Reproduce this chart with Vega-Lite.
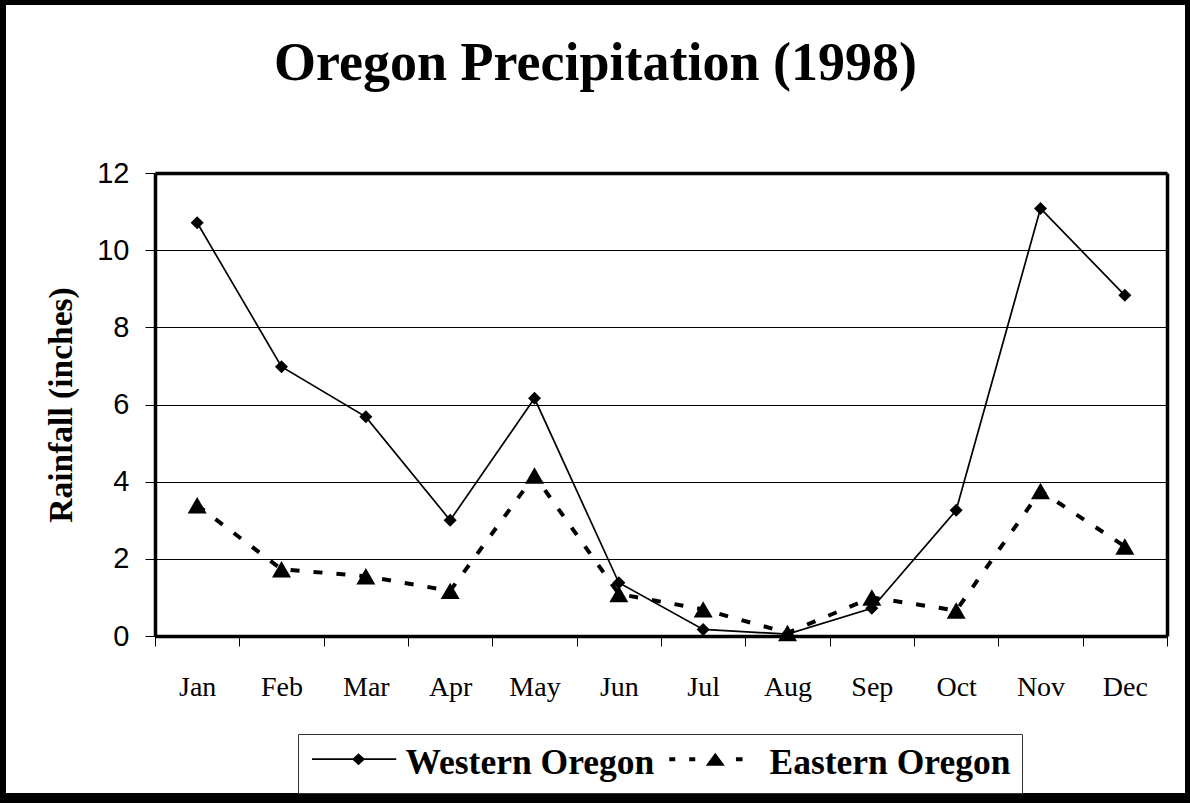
{
  "$schema": "https://vega.github.io/schema/vega-lite/v6.json",
  "width": 1189,
  "height": 798,
  "autosize": {"type": "none"},
  "padding": {"left": 1, "top": 0, "right": 0, "bottom": 5},
  "background": "white",
  "config": {"view": {"stroke": "black", "strokeWidth": 10, "fill": "white"}},
  "title": {
    "text": "Oregon Precipitation (1998)",
    "font": "Liberation Serif",
    "fontSize": 54,
    "fontWeight": "bold",
    "color": "black",
    "anchor": "middle",
    "frame": "group",
    "baseline": "alphabetic",
    "dy": 138
  },
  "data": {
    "values": [
      {"month": "Jan", "region": "Western Oregon", "value": 10.71},
      {"month": "Feb", "region": "Western Oregon", "value": 6.98},
      {"month": "Mar", "region": "Western Oregon", "value": 5.68},
      {"month": "Apr", "region": "Western Oregon", "value": 3.0},
      {"month": "May", "region": "Western Oregon", "value": 6.16},
      {"month": "Jun", "region": "Western Oregon", "value": 1.38},
      {"month": "Jul", "region": "Western Oregon", "value": 0.17},
      {"month": "Aug", "region": "Western Oregon", "value": 0.05},
      {"month": "Sep", "region": "Western Oregon", "value": 0.72},
      {"month": "Oct", "region": "Western Oregon", "value": 3.26},
      {"month": "Nov", "region": "Western Oregon", "value": 11.08},
      {"month": "Dec", "region": "Western Oregon", "value": 8.83},
      {"month": "Jan", "region": "Eastern Oregon", "value": 3.39},
      {"month": "Feb", "region": "Eastern Oregon", "value": 1.73},
      {"month": "Mar", "region": "Eastern Oregon", "value": 1.55},
      {"month": "Apr", "region": "Eastern Oregon", "value": 1.17},
      {"month": "May", "region": "Eastern Oregon", "value": 4.16},
      {"month": "Jun", "region": "Eastern Oregon", "value": 1.09},
      {"month": "Jul", "region": "Eastern Oregon", "value": 0.69},
      {"month": "Aug", "region": "Eastern Oregon", "value": 0.08},
      {"month": "Sep", "region": "Eastern Oregon", "value": 1.0},
      {"month": "Oct", "region": "Eastern Oregon", "value": 0.66},
      {"month": "Nov", "region": "Eastern Oregon", "value": 3.76},
      {"month": "Dec", "region": "Eastern Oregon", "value": 2.32}
    ]
  },
  "layer": [
    {
      "transform": [{"filter": "datum.region === 'Western Oregon'"}],
      "mark": {"type": "line", "color": "black", "strokeWidth": 1.7},
      "encoding": {
        "x": {
          "field": "month",
          "type": "nominal",
          "scale": {
            "type": "band",
            "domain": ["Jan", "Feb", "Mar", "Apr", "May", "Jun", "Jul", "Aug", "Sep", "Oct", "Nov", "Dec"],
            "range": [154, 1166],
            "paddingInner": 0,
            "paddingOuter": 0
          },
          "axis": {
            "orient": "bottom",
            "offset": -162,
            "title": null,
            "grid": false,
            "tickBand": "extent",
            "tickSize": 10,
            "tickWidth": 1,
            "tickColor": "black",
            "domainColor": "black",
            "domainWidth": 3.5,
            "labelFont": "Liberation Serif",
            "labelFontSize": 28,
            "labelColor": "black",
            "labelPadding": 27,
            "labelAngle": 0
          }
        },
        "y": {
          "field": "value",
          "type": "quantitative",
          "scale": {"domain": [0, 12], "range": [636, 173], "nice": false, "zero": true},
          "axis": {
            "orient": "left",
            "offset": -154,
            "values": [0, 2, 4, 6, 8, 10, 12],
            "tickSize": 10,
            "tickWidth": 1,
            "tickColor": "black",
            "domainColor": "black",
            "domainWidth": 3.5,
            "grid": true,
            "gridColor": "black",
            "gridWidth": 1,
            "labelFont": "Liberation Sans",
            "labelFontSize": 29,
            "labelColor": "black",
            "labelPadding": 16,
            "title": "Rainfall (inches)",
            "titleFont": "Liberation Serif",
            "titleFontSize": 33.5,
            "titleFontWeight": "bold",
            "titleColor": "black",
            "titlePadding": 18
          }
        }
      }
    },
    {
      "transform": [{"filter": "datum.region === 'Eastern Oregon'"}],
      "mark": {"type": "line", "color": "black", "strokeWidth": 4, "strokeDash": [9, 14]},
      "encoding": {
        "x": {
          "field": "month",
          "type": "nominal",
          "axis": {
            "orient": "top",
            "offset": -173,
            "title": null,
            "labels": false,
            "ticks": false,
            "grid": false,
            "domainColor": "black",
            "domainWidth": 3.5
          }
        },
        "y": {
          "field": "value",
          "type": "quantitative",
          "axis": {
            "orient": "right",
            "offset": -23,
            "title": null,
            "labels": false,
            "ticks": false,
            "grid": false,
            "domainColor": "black",
            "domainWidth": 3.5
          }
        }
      }
    },
    {
      "mark": {"type": "point", "filled": true, "opacity": 1, "color": "black", "strokeWidth": 0},
      "encoding": {
        "x": {"field": "month", "type": "nominal", "axis": null},
        "y": {"field": "value", "type": "quantitative", "axis": null},
        "shape": {
          "field": "region",
          "type": "nominal",
          "scale": {"domain": ["Western Oregon", "Eastern Oregon"], "range": ["diamond", "triangle-up"]},
          "legend": null
        },
        "size": {
          "condition": {"test": "datum.region === 'Eastern Oregon'", "value": 361},
          "value": 170
        }
      }
    },
    {
      "transform": [{"filter": "false"}],
      "mark": {"type": "point", "filled": true, "opacity": 1, "color": "black", "strokeWidth": 0},
      "encoding": {
        "shape": {
          "field": "region",
          "type": "nominal",
          "scale": {
            "domain": ["Western Oregon", "Eastern Oregon"],
            "range": [
              "M-1.48,-0.485H6.95V-0.315H-1.48ZM3.18,-1L3.83,-0.4L3.18,0.2L2.53,-0.4Z",
              "M-2.15,-0.6H-1.55V-0.2H-2.15ZM-0.15,-0.6H0.45V-0.2H-0.15ZM4.52,-0.6H5.18V-0.2H4.52ZM2.45,-1.05L3.4,0.25L1.5,0.25Z"
            ]
          },
          "legend": {
            "title": null,
            "orient": "none",
            "legendX": 297,
            "legendY": 734,
            "direction": "horizontal",
            "columns": 2,
            "symbolSize": 400,
            "symbolFillColor": "black",
            "symbolStrokeColor": "black",
            "symbolStrokeWidth": 0,
            "symbolOpacity": 1,
            "labelFont": "Liberation Serif",
            "labelFontSize": 35.5,
            "labelFontWeight": "bold",
            "labelColor": "black",
            "labelOffset": 61,
            "labelLimit": 0,
            "columnPadding": 14,
            "padding": 11,
            "strokeColor": "#333333",
            "fillColor": "white"
          }
        }
      }
    }
  ],
  "resolve": {
    "scale": {"shape": "independent"},
    "axis": {"x": "independent", "y": "independent"}
  }
}
